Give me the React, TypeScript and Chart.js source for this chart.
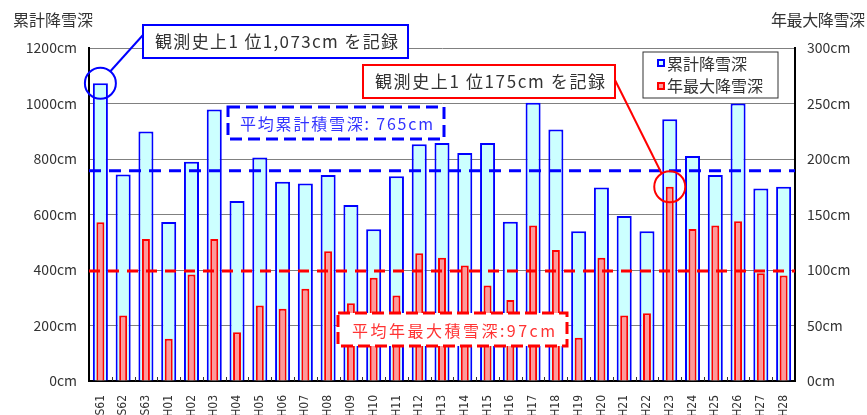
import React, { useEffect, useRef } from "react";
import { Chart, registerables } from "chart.js";

Chart.register(...registerables);

const categories = [
  "S61", "S62", "S63", "H01", "H02", "H03", "H04", "H05", "H06", "H07", "H08",
  "H09", "H10", "H11", "H12", "H13", "H14", "H15", "H16", "H17", "H18", "H19",
  "H20", "H21", "H22", "H23", "H24", "H25", "H26", "H27", "H28",
];

// 累計降雪深 (cm, left axis)
const totalSnow = [
  1073, 744, 899, 573, 790, 978, 649, 805, 718, 712, 742,
  634, 547, 738, 853, 858, 822, 858, 574, 1003, 906, 540,
  697, 595, 540, 943, 811, 742, 1000, 694, 700,
];

// 年最大降雪深 (cm, right axis)
const maxDepth = [
  143, 59, 128, 38, 96, 128, 44, 68, 65, 83, 117,
  70, 93, 77, 115, 111, 104, 86, 73, 140, 118, 39,
  111, 59, 61, 175, 137, 140, 144, 97, 95,
];

const avgTotalLine = 758;
const avgMaxLine = 99;
const recordTotalIndex = 0;
const recordMaxIndex = 25;

const leftAxisTitle = "累計降雪深";
const rightAxisTitle = "年最大降雪深";
const legendLabels = ["累計降雪深", "年最大降雪深"];
const recordTotalText = "観測史上1 位1,073cm を記録";
const recordMaxText = "観測史上1 位175cm を記録";
const avgTotalText = "平均累計積雪深: 765cm";
const avgMaxText = "平均年最大積雪深:97cm";

const FONT = "'Noto Sans CJK JP', 'Noto Sans', sans-serif";

function fitText(ctx: CanvasRenderingContext2D, text: string, x0: number, x1: number, yc: number, size: number, color: string) {
  ctx.save();
  ctx.font = `${size}px ${FONT}`;
  (ctx as any).letterSpacing = "0px";
  const w = ctx.measureText(text).width;
  const n = Array.from(text).length;
  const ls = n > 1 ? (x1 - x0 - w) / (n - 1) : 0;
  (ctx as any).letterSpacing = `${ls}px`;
  ctx.fillStyle = color;
  ctx.textAlign = "left";
  ctx.textBaseline = "middle";
  ctx.fillText(text, x0, yc);
  ctx.restore();
}

function box(ctx: CanvasRenderingContext2D, x0: number, y0: number, x1: number, y1: number, color: string, lw: number, dash: number[]) {
  ctx.save();
  ctx.fillStyle = "#ffffff";
  ctx.fillRect(x0, y0, x1 - x0, y1 - y0);
  ctx.strokeStyle = color;
  ctx.lineWidth = lw;
  ctx.setLineDash(dash);
  ctx.strokeRect(x0, y0, x1 - x0, y1 - y0);
  ctx.restore();
}

function line(ctx: CanvasRenderingContext2D, x0: number, y0: number, x1: number, y1: number, color: string, lw: number, dash: number[] = []) {
  ctx.save();
  ctx.strokeStyle = color;
  ctx.lineWidth = lw;
  ctx.setLineDash(dash);
  ctx.beginPath();
  ctx.moveTo(x0, y0);
  ctx.lineTo(x1, y1);
  ctx.stroke();
  ctx.restore();
}

function circle(ctx: CanvasRenderingContext2D, cx: number, cy: number, r: number, color: string) {
  ctx.save();
  ctx.strokeStyle = color;
  ctx.lineWidth = 2;
  ctx.beginPath();
  ctx.arc(cx, cy, r, 0, Math.PI * 2);
  ctx.stroke();
  ctx.restore();
}

const overlayPlugin = {
  id: "overlay",
  afterDatasetsDraw(chart: any) {
    const { ctx, chartArea, scales } = chart;
    const x = scales.x, y = scales.y, y2 = scales.y2;

    // small inner ticks at category boundaries
    for (let i = 1; i < categories.length; i++) {
      const bx = Math.round((x.getPixelForValue(i - 1) + x.getPixelForValue(i)) / 2) + 0.5;
      line(ctx, bx, chartArea.bottom, bx, chartArea.bottom - 4, "#333333", 1);
    }

    // average lines
    const yAvgT = y.getPixelForValue(avgTotalLine);
    line(ctx, chartArea.left, yAvgT, chartArea.right, yAvgT, "#0000ff", 3, [12, 8]);
    const yAvgM = y2.getPixelForValue(avgMaxLine);
    line(ctx, chartArea.left, yAvgM, chartArea.right, yAvgM, "#ff0000", 3, [11, 8]);
  },
  afterDraw(chart: any) {
    const { ctx, scales } = chart;
    const x = scales.x, y = scales.y, y2 = scales.y2;

    // axis titles
    fitText(ctx, leftAxisTitle, 13, 93, 20, 16, "#333333");
    fitText(ctx, rightAxisTitle, 771, 865, 20, 16, "#333333");

    // record total (blue)
    const c1x = x.getPixelForValue(recordTotalIndex);
    const c1y = y.getPixelForValue(totalSnow[recordTotalIndex]);
    circle(ctx, c1x, c1y, 15.5, "#0000ff");
    line(ctx, c1x + 10, c1y - 12, 143, 35, "#0000ff", 2);
    box(ctx, 143, 25, 408, 58, "#0000ff", 2, []);
    fitText(ctx, recordTotalText, 155, 398, 42, 17, "#333333");

    // record max (red)
    const c2x = x.getPixelForValue(recordMaxIndex);
    const c2y = y2.getPixelForValue(maxDepth[recordMaxIndex]);
    circle(ctx, c2x, c2y, 15.5, "#ff0000");
    line(ctx, 615, 80, c2x - 8, c2y - 13, "#ff0000", 2);
    box(ctx, 363, 65, 615, 98, "#ff0000", 2, []);
    fitText(ctx, recordMaxText, 375, 605, 82, 17, "#333333");

    // average boxes
    box(ctx, 228, 107, 444, 139, "#0000ff", 3, [12, 6]);
    fitText(ctx, avgTotalText, 240, 433, 124, 16, "#3333ff");
    box(ctx, 338, 313, 567, 346, "#ff0000", 3, [12, 5]);
    fitText(ctx, avgMaxText, 352, 555, 331, 16, "#ff3333");

    // legend
    box(ctx, 643, 52, 778, 98, "#333333", 1, []);
    ctx.save();
    ctx.fillStyle = "#ccffff";
    ctx.strokeStyle = "#0000ff";
    ctx.lineWidth = 2;
    ctx.fillRect(658, 60, 6, 6);
    ctx.strokeRect(658, 60, 6, 6);
    ctx.fillStyle = "#ff9999";
    ctx.strokeStyle = "#ff0000";
    ctx.fillRect(658, 83, 6, 6);
    ctx.strokeRect(658, 83, 6, 6);
    ctx.restore();
    fitText(ctx, legendLabels[0], 667, 747, 64, 16, "#333333");
    fitText(ctx, legendLabels[1], 667, 763, 86, 16, "#333333");
  },
};

export default function App() {
  const canvasRef = useRef<HTMLCanvasElement | null>(null);

  useEffect(() => {
    document.body.style.margin = "0";
    const canvas = canvasRef.current;
    if (!canvas) return;
    const tickFont = { family: FONT, size: 14 };
    const chart = new Chart(canvas, {
      type: "bar",
      data: {
        labels: categories,
        datasets: [
          {
            label: legendLabels[1],
            data: maxDepth,
            yAxisID: "y2",
            backgroundColor: "#ff9999",
            borderColor: "#ff0000",
            borderWidth: 2,
            grouped: false,
            categoryPercentage: 1,
            barPercentage: 0.35,
          } as any,
          {
            label: legendLabels[0],
            data: totalSnow,
            yAxisID: "y",
            backgroundColor: "#ccffff",
            borderColor: "#0000ff",
            borderWidth: 2,
            grouped: false,
            categoryPercentage: 1,
            barPercentage: 0.66,
          } as any,
        ],
      },
      options: {
        animation: false,
        responsive: false,
        devicePixelRatio: 1,
        layout: { padding: { top: 48, left: 0, right: 0, bottom: 0 } },
        plugins: { legend: { display: false }, tooltip: { enabled: false } },
        scales: {
          x: {
            offset: true,
            grid: { display: false },
            border: { display: true, color: "#000000", width: 2 },
            ticks: {
              color: "#333333",
              font: { family: "'DejaVu Sans Condensed', 'DejaVu Sans', sans-serif", size: 12 },
              maxRotation: 90,
              minRotation: 90,
              autoSkip: false,
              padding: 6,
            },
            afterFit: (s: any) => { s.height = 34; },
          },
          y: {
            position: "left",
            min: 0,
            max: 1200,
            ticks: {
              stepSize: 200,
              callback: (v: any) => `${v}cm`,
              color: "#333333",
              font: tickFont,
              padding: 12,
            },
            grid: { color: "#808080", lineWidth: 1, drawTicks: false },
            border: { color: "#000000", width: 2 },
            afterFit: (s: any) => { s.width = 89; },
          },
          y2: {
            position: "right",
            min: 0,
            max: 300,
            ticks: {
              stepSize: 50,
              callback: (v: any) => `${v}cm`,
              color: "#333333",
              font: tickFont,
              padding: 12,
            },
            grid: { drawOnChartArea: false, drawTicks: false },
            border: { color: "#000000", width: 2 },
            afterFit: (s: any) => { s.width = 72; },
          },
        },
      } as any,
      plugins: [overlayPlugin],
    });
    return () => chart.destroy();
  }, []);

  return (
    <div style={{ width: 867, height: 415, background: "#ffffff" }}>
      <canvas ref={canvasRef} width={867} height={415} style={{ display: "block" }} />
    </div>
  );
}
